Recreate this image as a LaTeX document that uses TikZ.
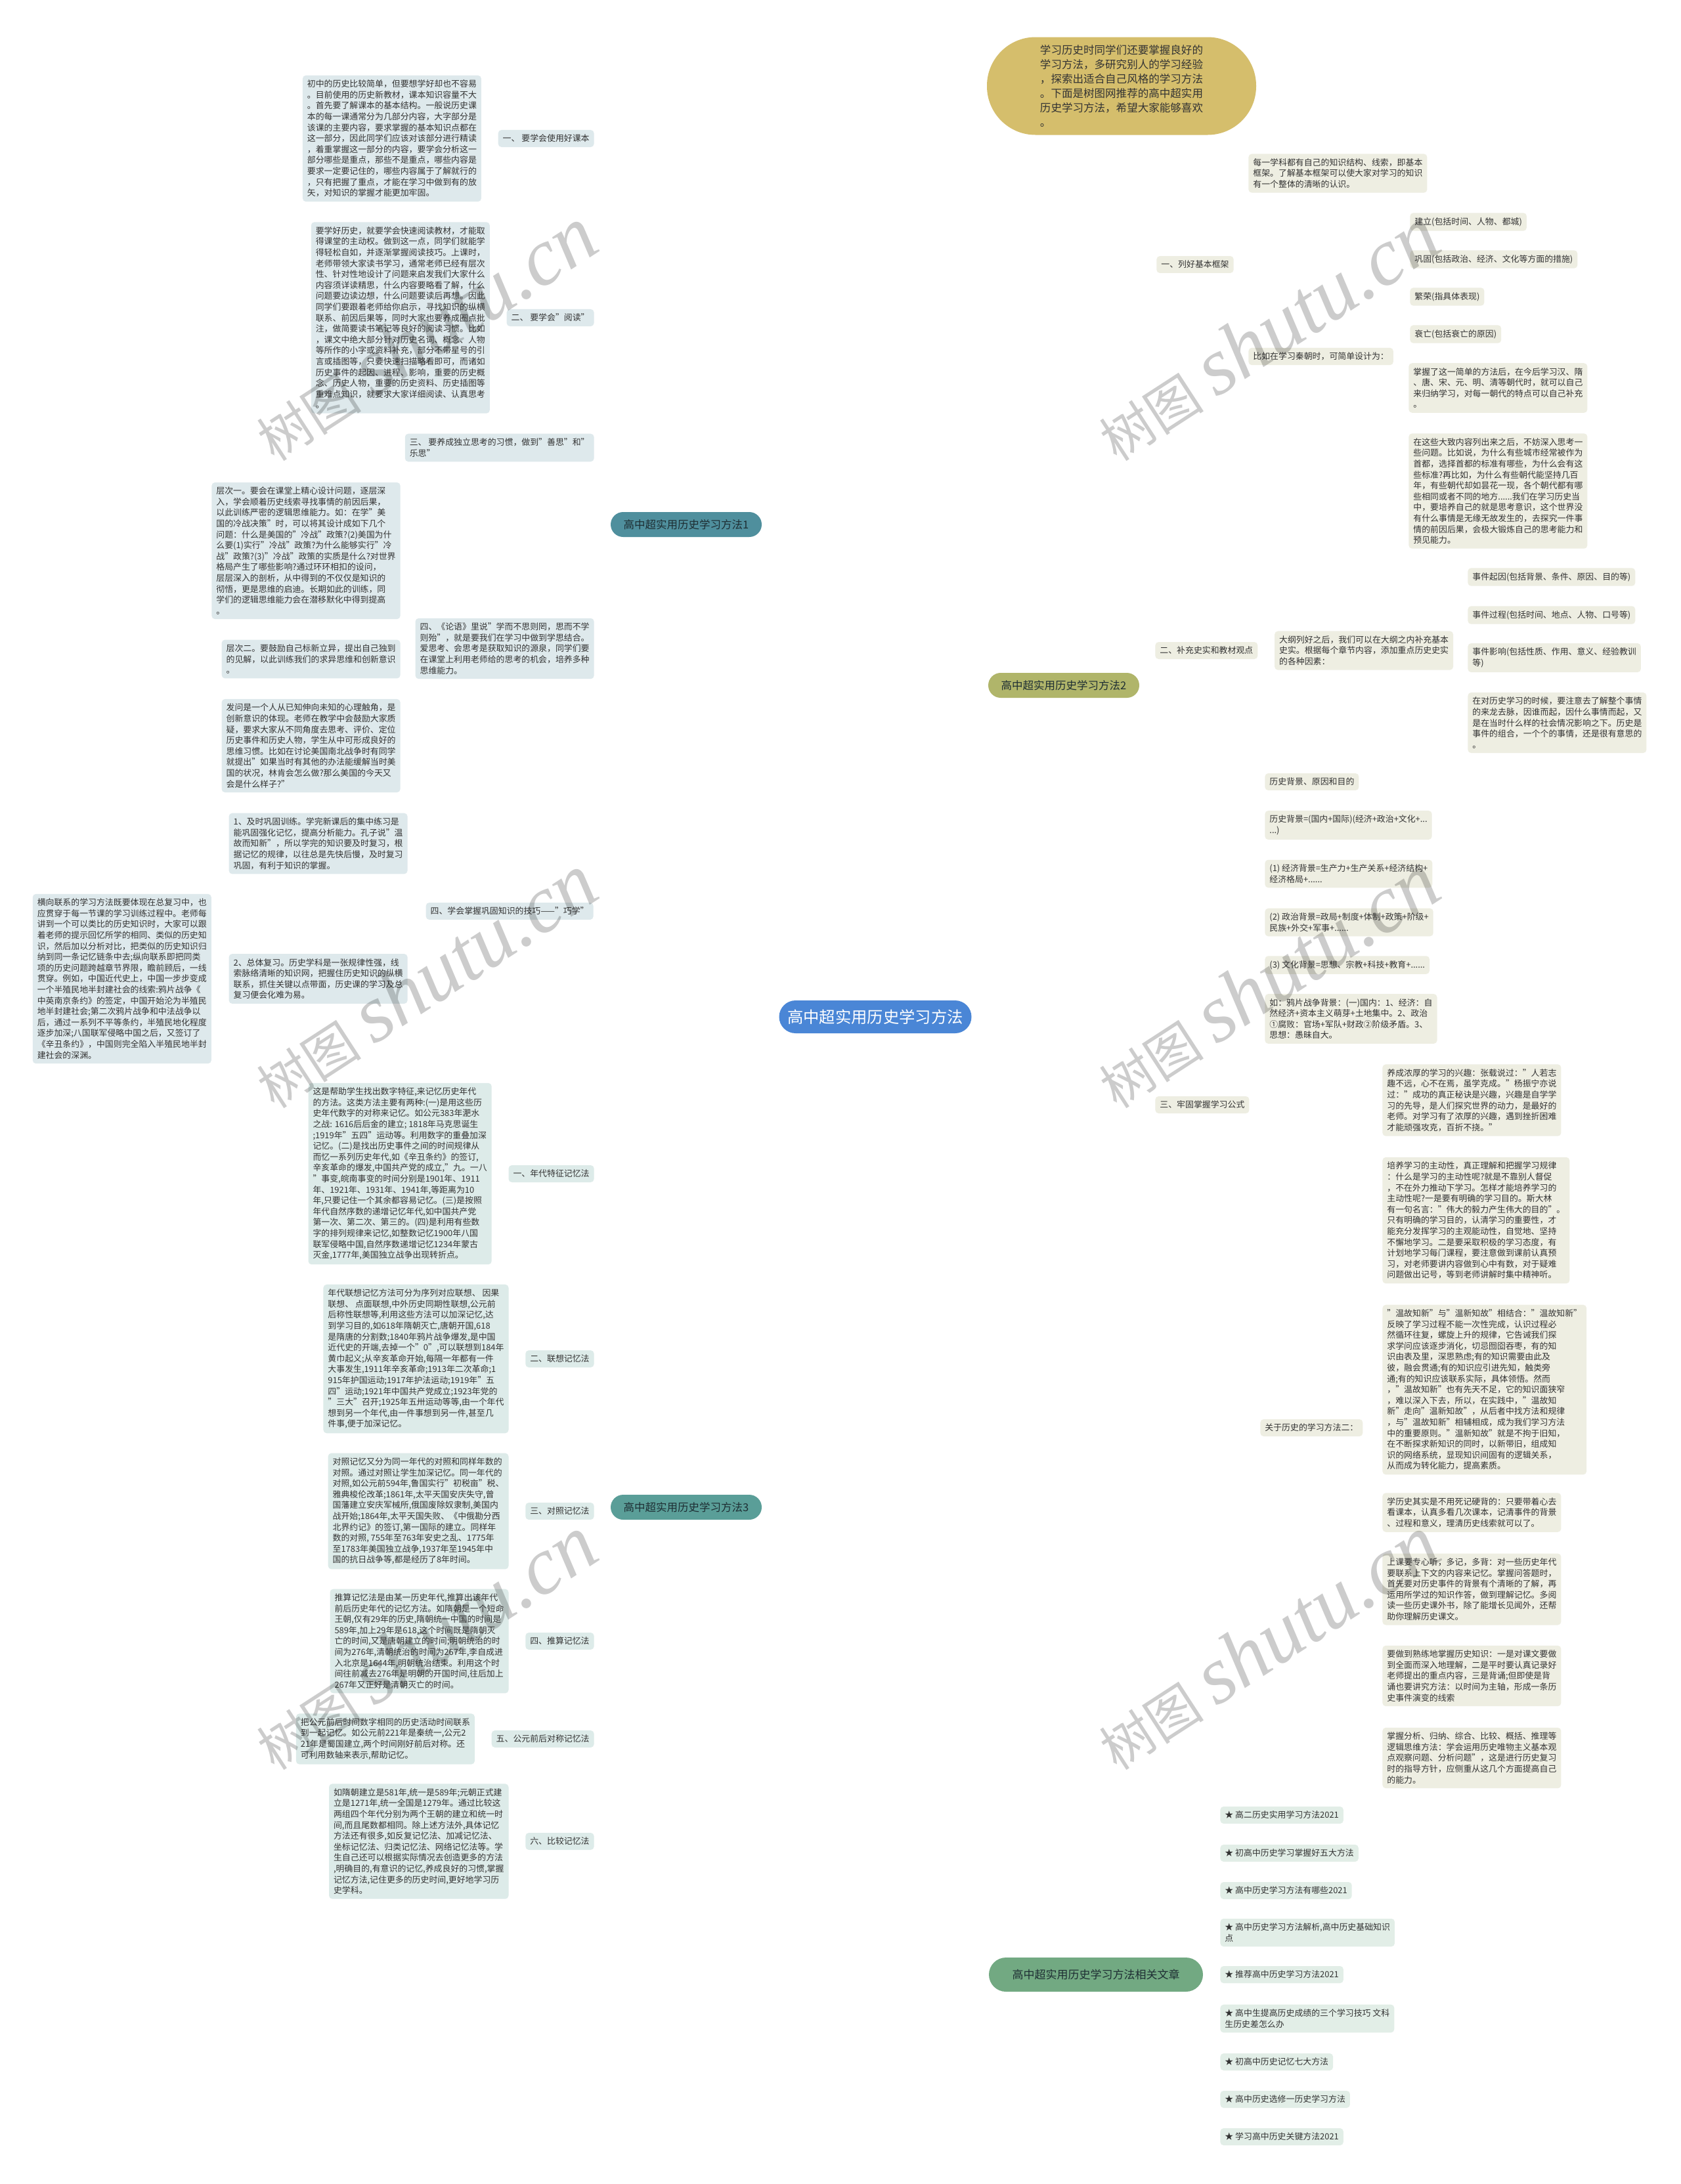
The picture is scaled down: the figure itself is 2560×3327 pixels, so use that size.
\documentclass[tikz,border=0pt]{standalone}
\usepackage{fontspec}
\setmainfont{Noto Sans CJK SC}
\newfontfamily\wmserif{Liberation Serif}
\usetikzlibrary{backgrounds,positioning}
\definecolor{txt}{HTML}{333333}
\definecolor{brt}{HTML}{1E2E33}
\definecolor{fA}{HTML}{DEE9EC}
\definecolor{cA}{HTML}{3E7F8B}
\definecolor{nA}{HTML}{4F8F9D}
\definecolor{fB}{HTML}{EEEEE2}
\definecolor{cB}{HTML}{9DA65C}
\definecolor{nB}{HTML}{B0B56A}
\definecolor{fC}{HTML}{DDEBE9}
\definecolor{cC}{HTML}{4F9A8F}
\definecolor{nC}{HTML}{5A9E98}
\definecolor{fD}{HTML}{E2EEE7}
\definecolor{cD}{HTML}{6AA57A}
\definecolor{nD}{HTML}{72A982}
\definecolor{nY}{HTML}{D5BE6C}
\definecolor{cY}{HTML}{D2B463}
\definecolor{nM}{HTML}{4A86D6}
\begin{document}
\begin{tikzpicture}[x=0.5pt,y=-0.5pt,
  every node/.style={font=\fontsize{6.45pt}{8.3pt}\selectfont, text=txt},
  blk/.style={align=left, inner xsep=3.5pt, inner ysep=3.5pt, rounded corners=2.5pt},
  kA/.style={blk, fill=fA}, kB/.style={blk, fill=fB},
  kC/.style={blk, fill=fC}, kD/.style={blk, fill=fD},
  br/.style={minimum width=115pt, minimum height=19pt, rounded corners=9.5pt, inner sep=0pt,
    text=brt, font=\fontsize{8.25pt}{10pt}\selectfont},
  lA/.style={draw=cA, line width=1pt, rounded corners=4pt},
  lB/.style={draw=cB, line width=1pt, rounded corners=4pt},
  lC/.style={draw=cC, line width=1pt, rounded corners=4pt},
  lD/.style={draw=cD, line width=1pt, rounded corners=4pt},
  mline/.style={line width=1.2pt},
  wm/.style={rotate=33, text=black, opacity=0.2, inner sep=0pt}]
\fill[white] (0,0) rectangle (2560,3327);
\useasboundingbox (0,0) rectangle (2560,3327);

% ---------- central and main nodes ----------
\node[fill=nM, text=white, minimum width=146.5pt, minimum height=25pt, rounded corners=12.5pt,
  inner sep=0pt, font=\fontsize{12.15pt}{14pt}\selectfont] (m) at (1333,1549) {高中超实用历史学习方法};
\node[fill=nY, minimum width=205pt, minimum height=74.5pt, rounded corners=37pt, inner sep=0pt,
  align=left, font=\fontsize{8.27pt}{11pt}\selectfont] (y) at (1708,131)
  {学习历史时同学们还要掌握良好的\\学习方法，多研究别人的学习经验\\，探索出适合自己风格的学习方法\\。下面是树图网推荐的高中超实用\\历史学习方法，希望大家能够喜欢\\。};
\node[br, fill=nA] (b1) at (1045,799) {高中超实用历史学习方法1};
\node[br, fill=nB] (b2) at (1620,1044) {高中超实用历史学习方法2};
\node[br, fill=nC] (b3) at (1045,2296) {高中超实用历史学习方法3};
\node[br, fill=nD, minimum width=163pt, minimum height=26pt, rounded corners=13pt,
  font=\fontsize{8.5pt}{10pt}\selectfont] (b4) at (1669,3008) {高中超实用历史学习方法相关文章};

% ---------- branch 1 ----------
\node[kA, anchor=east] (l1a) at (905,211) {一、 要学会使用好课本};
\node[kA, left=12.5pt of l1a] (t1a) {初中的历史比较简单，但要想学好却也不容易\\。目前使用的历史新教材，课本知识容量不大\\。首先要了解课本的基本结构。一般说历史课\\本的每一课通常分为几部分内容，大字部分是\\该课的主要内容，要求掌握的基本知识点都在\\这一部分，因此同学们应该对该部分进行精读\\，着重掌握这一部分的内容，要学会分析这一\\部分哪些是重点，那些不是重点，哪些内容是\\要求一定要记住的，哪些内容属于了解就行的\\，只有把握了重点，才能在学习中做到有的放\\矢，对知识的掌握才能更加牢固。};
\node[kA, anchor=east] (l1b) at (905,484) {二、 要学会"阅读"};
\node[kA, left=12.5pt of l1b] (t1b) {要学好历史，就要学会快速阅读教材，才能取\\得课堂的主动权。做到这一点，同学们就能学\\得轻松自如，并逐渐掌握阅读技巧。上课时，\\老师带领大家读书学习，通常老师已经有层次\\性、针对性地设计了问题来启发我们大家什么\\内容须详读精思，什么内容要略看了解，什么\\问题要边读边想，什么问题要读后再想。因此\\同学们要跟着老师给你启示，寻找知识的纵横\\联系、前因后果等，同时大家也要养成圈点批\\注，做简要读书笔记等良好的阅读习惯。比如\\，课文中绝大部分针对历史名词、概念、人物\\等所作的小字或资料补充，部分不带星号的引\\言或插图等，只要快速扫描略看即可，而诸如\\历史事件的起因、进程、影响，重要的历史概\\念、历史人物，重要的历史资料、历史插图等\\重难点知识，就要求大家详细阅读、认真思考\\。};
\node[kA, anchor=east] (l1c) at (905,682) {三、 要养成独立思考的习惯，做到"善思"和"\\乐思"};
\node[kA, anchor=east] (l1d) at (905,988) {四、《论语》里说"学而不思则罔，思而不学\\则殆"，就是要我们在学习中做到学思结合。\\爱思考、会思考是获取知识的源泉，同学们要\\在课堂上利用老师给的思考的机会，培养多种\\思维能力。};
\node[kA, anchor=east] (t1d1) at (610,839) {层次一。要会在课堂上精心设计问题，逐层深\\入，学会顺着历史线索寻找事情的前因后果，\\以此训练严密的逻辑思维能力。如：在学"美\\国的冷战决策"时，可以将其设计成如下几个\\问题：什么是美国的"冷战"政策?(2)美国为什\\么要(1)实行"冷战"政策?为什么能够实行"冷\\战"政策?(3)"冷战"政策的实质是什么?对世界\\格局产生了哪些影响?通过环环相扣的设问，\\层层深入的剖析，从中得到的不仅仅是知识的\\彻悟，更是思维的启迪。长期如此的训练，同\\学们的逻辑思维能力会在潜移默化中得到提高\\。};
\node[kA, anchor=east] (t1d2) at (610,1004) {层次二。要鼓励自己标新立异，提出自己独到\\的见解，以此训练我们的求异思维和创新意识\\。};
\node[kA, anchor=east] (t1d3) at (610,1136) {发问是一个人从已知伸向未知的心理触角，是\\创新意识的体现。老师在教学中会鼓励大家质\\疑，要求大家从不同角度去思考、评价、定位\\历史事件和历史人物，学生从中可形成良好的\\思维习惯。比如在讨论美国南北战争时有同学\\就提出"如果当时有其他的办法能缓解当时美\\国的状况，林肯会怎么做?那么美国的今天又\\会是什么样子?"};
\node[kA, anchor=east] (l1e) at (904,1388) {四、学会掌握巩固知识的技巧——"巧学"};
\node[kA, anchor=east] (t1e1) at (621,1285) {1、及时巩固训练。学完新课后的集中练习是\\能巩固强化记忆，提高分析能力。孔子说"温\\故而知新"，所以学完的知识要及时复习，根\\据记忆的规律，以往总是先快后慢，及时复习\\巩固，有利于知识的掌握。};
\node[kA, anchor=east] (t1e2) at (621,1491) {2、总体复习。历史学科是一张规律性强，线\\索脉络清晰的知识网，把握住历史知识的纵横\\联系，抓住关键以点带面，历史课的学习及总\\复习便会化难为易。};
\node[kA, left=13pt of t1e2] (t1e3) {横向联系的学习方法既要体现在总复习中，也\\应贯穿于每一节课的学习训练过程中。老师每\\讲到一个可以类比的历史知识时，大家可以跟\\着老师的提示回忆所学的相同、类似的历史知\\识，然后加以分析对比，把类似的历史知识归\\纳到同一条记忆链条中去;纵向联系即把同类\\项的历史问题跨越章节界限，瞻前顾后，一线\\贯穿。例如，中国近代史上，中国一步步变成\\一个半殖民地半封建社会的线索:鸦片战争《\\中英南京条约》的签定，中国开始沦为半殖民\\地半封建社会;第二次鸦片战争和中法战争以\\后，通过一系列不平等条约，半殖民地化程度\\逐步加深;八国联军侵略中国之后，又签订了\\《辛丑条约》，中国则完全陷入半殖民地半封\\建社会的深渊。};

% ---------- branch 3 ----------
\node[kC, anchor=east] (l3a) at (905,1788) {一、年代特征记忆法};
\node[kC, left=12.5pt of l3a] (t3a) {这是帮助学生找出数字特征,来记忆历史年代\\的方法。这类方法主要有两种:(一)是用这些历\\史年代数字的对称来记忆。如公元383年淝水\\之战: 1616后后金的建立; 1818年马克思诞生\\;1919年"五四"运动等。利用数字的重叠加深\\记忆。(二)是找出历史事件之间的时间规律从\\而忆一系列历史年代,如《辛丑条约》的签订,\\辛亥革命的爆发,中国共产党的成立,"九。一八\\"事变,皖南事变的时间分别是1901年、1911\\年、1921年、1931年、1941年,等距离为10\\年,只要记住一个其余都容易记忆。(三)是按照\\年代自然序数的递增记忆年代,如中国共产党\\第一次、第二次、第三的。(四)是利用有些数\\字的排列规律来记忆,如整数记忆1900年八国\\联军侵略中国,自然序数递增记忆1234年蒙古\\灭金,1777年,美国独立战争出现转折点。};
\node[kC, anchor=east] (l3b) at (905,2070) {二、联想记忆法};
\node[kC, left=12.5pt of l3b] (t3b) {年代联想记忆方法可分为序列对应联想、 因果\\联想、 点面联想,中外历史同期性联想,公元前\\后称性联想等,利用这些方法可以加深记忆,达\\到学习目的,如618年隋朝灭亡,唐朝开国,618\\是隋唐的分割数;1840年鸦片战争爆发,是中国\\近代史的开端,去掉一个"0",可以联想到184年\\黄巾起义;从辛亥革命开始,每隔一年都有一件\\大事发生,1911年辛亥革命;1913年二次革命;1\\915年护国运动;1917年护法运动;1919年"五\\四"运动;1921年中国共产党成立;1923年党的\\"三大"召开;1925年五卅运动等等,由一个年代\\想到另一个年代,由一件事想到另一件,甚至几\\件事,便于加深记忆。};
\node[kC, anchor=east] (l3c) at (905,2302) {三、对照记忆法};
\node[kC, left=12.5pt of l3c] (t3c) {对照记忆又分为同一年代的对照和同样年数的\\对照。通过对照让学生加深记忆。同一年代的\\对照,如公元前594年,鲁国实行"初税亩"税、\\雅典梭伦改革;1861年,太平天国安庆失守,曾\\国藩建立安庆军械所,俄国废除奴隶制,美国内\\战开始;1864年,太平天国失败、《中俄勘分西\\北界约记》的签订,第一国际的建立。同样年\\数的对照, 755年至763年安史之乱、1775年\\至1783年美国独立战争,1937年至1945年中\\国的抗日战争等,都是经历了8年时间。};
\node[kC, anchor=east] (l3d) at (905,2500) {四、推算记忆法};
\node[kC, left=12.5pt of l3d] (t3d) {推算记忆法是由某一历史年代,推算出该年代\\前后历史年代的记忆方法。如隋朝是一个短命\\王朝,仅有29年的历史,隋朝统一中国的时间是\\589年,加上29年是618,这个时间既是隋朝灭\\亡的时间,又是唐朝建立的时间;明朝统治的时\\间为276年,清朝统治的时间为267年,李自成进\\入北京是1644年,明朝统治结束。利用这个时\\间往前减去276年是明朝的开国时间,往后加上\\267年又正好是清朝灭亡的时间。};
\node[kC, anchor=east] (l3e) at (905,2649) {五、公元前后对称记忆法};
\node[kC, left=12.5pt of l3e] (t3e) {把公元前后时间数字相同的历史活动时间联系\\到一起记忆。如公元前221年是秦统一,公元2\\21年是蜀国建立,两个时间刚好前后对称。还\\可利用数轴来表示,帮助记忆。};
\node[kC, anchor=east] (l3f) at (905,2805) {六、比较记忆法};
\node[kC, left=12.5pt of l3f] (t3f) {如隋朝建立是581年,统一是589年;元朝正式建\\立是1271年,统一全国是1279年。通过比较这\\两组四个年代分别为两个王朝的建立和统一时\\间,而且尾数都相同。除上述方法外,具体记忆\\方法还有很多,如反复记忆法、加减记忆法、\\坐标记忆法、归类记忆法、网络记忆法等。学\\生自己还可以根据实际情况去创造更多的方法\\,明确目的,有意识的记忆,养成良好的习惯,掌握\\记忆方法,记住更多的历史时间,更好地学习历\\史学科。};

% ---------- branch 2 ----------
\node[kB, anchor=west] (l2a) at (1761,403) {一、列好基本框架};
\node[kB, anchor=west] (t2a) at (1901,264) {每一学科都有自己的知识结构、线索，即基本\\框架。了解基本框架可以使大家对学习的知识\\有一个整体的清晰的认识。};
\node[kB, anchor=west] (l2q) at (1901,543) {比如在学习秦朝时，可简单设计为：};
\node[kB, anchor=west] (q1) at (2147,338) {建立(包括时间、人物、都城)};
\node[kB, anchor=west] (q2) at (2147,395) {巩固(包括政治、经济、文化等方面的措施)};
\node[kB, anchor=west] (q3) at (2147,452) {繁荣(指具体表现)};
\node[kB, anchor=west] (q4) at (2147,509) {衰亡(包括衰亡的原因)};
\node[kB, anchor=west] (q5) at (2145,591) {掌握了这一简单的方法后，在今后学习汉、隋\\、唐、宋、元、明、清等朝代时，就可以自己\\来归纳学习，对每一朝代的特点可以自己补充\\。};
\node[kB, anchor=west] (q6) at (2145,748) {在这些大致内容列出来之后，不妨深入思考一\\些问题。比如说，为什么有些城市经常被作为\\首都，选择首都的标准有哪些，为什么会有这\\些标准?再比如，为什么有些朝代能坚持几百\\年，有些朝代却如昙花一现，各个朝代都有哪\\些相同或者不同的地方......我们在学习历史当\\中，要培养自己的就是思考意识，这个世界没\\有什么事情是无缘无故发生的，去探究一件事\\情的前因后果，会极大锻炼自己的思考能力和\\预见能力。};
\node[kB, anchor=west] (l2b) at (1759,991) {二、补充史实和教材观点};
\node[kB, right=12.5pt of l2b] (t2b) {大纲列好之后，我们可以在大纲之内补充基本\\史实。根据每个章节内容，添加重点历史史实\\的各种因素：};
\node[kB, anchor=west] (e1) at (2235,879) {事件起因(包括背景、条件、原因、目的等)};
\node[kB, anchor=west] (e2) at (2235,937) {事件过程(包括时间、地点、人物、口号等)};
\node[kB, anchor=west] (e3) at (2235,1002) {事件影响(包括性质、作用、意义、经验教训\\等)};
\node[kB, anchor=west] (e4) at (2235,1101) {在对历史学习的时候，要注意去了解整个事情\\的来龙去脉，因谁而起，因什么事情而起，又\\是在当时什么样的社会情况影响之下。历史是\\事件的组合，一个个的事情，还是很有意思的\\。};
\node[kB, anchor=west] (l2c) at (1759,1683) {三、牢固掌握学习公式};
\node[kB, anchor=west] (g1) at (1926,1191) {历史背景、原因和目的};
\node[kB, anchor=west] (g2) at (1926,1257) {历史背景=(国内+国际)(经济+政治+文化+...\\...)};
\node[kB, anchor=west] (g3) at (1926,1331) {(1) 经济背景=生产力+生产关系+经济结构+\\经济格局+......};
\node[kB, anchor=west] (g4) at (1926,1405) {(2) 政治背景=政局+制度+体制+政策+阶级+\\民族+外交+军事+......};
\node[kB, anchor=west] (g5) at (1926,1470) {(3) 文化背景=思想、宗教+科技+教育+......};
\node[kB, anchor=west] (g6) at (1926,1552) {如：鸦片战争背景：(一)国内：1、经济：自\\然经济+资本主义萌芽+土地集中。2、政治\\①腐败：官场+军队+财政②阶级矛盾。3、\\思想：愚昧自大。};
\node[kB, anchor=west] (g7) at (1919,2175) {关于历史的学习方法二：};
\node[kB, anchor=west] (h1) at (2105,1676) {养成浓厚的学习的兴趣：张载说过："人若志\\趣不远，心不在焉，虽学克成。"杨振宁亦说\\过："成功的真正秘诀是兴趣，兴趣是自学学\\习的先导，是人们探究世界的动力，是最好的\\老师。对学习有了浓厚的兴趣，遇到挫折困难\\才能顽强攻克，百折不挠。"};
\node[kB, anchor=west] (h2) at (2105,1859) {培养学习的主动性，真正理解和把握学习规律\\：什么是学习的主动性呢?就是不靠别人督促\\，不在外力推动下学习。怎样才能培养学习的\\主动性呢?一是要有明确的学习目的。斯大林\\有一句名言："伟大的毅力产生伟大的目的"。\\只有明确的学习目的，认清学习的重要性，才\\能充分发挥学习的主观能动性，自觉地、坚持\\不懈地学习。二是要采取积极的学习态度，有\\计划地学习每门课程，要注意做到课前认真预\\习，对老师要讲内容做到心中有数，对于疑难\\问题做出记号，等到老师讲解时集中精神听。};
\node[kB, anchor=west] (h3) at (2105,2117) {"温故知新"与"温新知故"相结合："温故知新"\\反映了学习过程不能一次性完成，认识过程必\\然循环往复，螺旋上升的规律，它告诫我们探\\求学问应该逐步消化，切忌囫囵吞枣，有的知\\识由表及里，深思熟虑;有的知识需要由此及\\彼，融会贯通;有的知识应引进先知，触类旁\\通;有的知识应该联系实际，具体领悟。然而\\，"温故知新"也有先天不足，它的知识面狭窄\\，难以深入下去，所以，在实践中，"温故知\\新"走向"温新知故"，从后者中找方法和规律\\，与"温故知新"相辅相成，成为我们学习方法\\中的重要原则。"温新知故"就是不拘于旧知，\\在不断探求新知识的同时，以新带旧，组成知\\识的网络系统，显现知识间固有的逻辑关系，\\从而成为转化能力，提高素质。};
\node[kB, anchor=west] (h4) at (2105,2304) {学历史其实是不用死记硬背的：只要带着心去\\看课本，认真多看几次课本，记清事件的背景\\、过程和意义，理清历史线索就可以了。};
\node[kB, anchor=west] (h5) at (2105,2421) {上课要专心听，多记，多背：对一些历史年代\\要联系上下文的内容来记忆。掌握问答题时，\\首先要对历史事件的背景有个清晰的了解，再\\运用所学过的知识作答，做到理解记忆。多阅\\读一些历史课外书，除了能增长见闻外，还帮\\助你理解历史课文。};
\node[kB, anchor=west] (h6) at (2105,2553) {要做到熟练地掌握历史知识：一是对课文要做\\到全面而深入地理解，二是平时要认真记录好\\老师提出的重点内容，三是背诵;但即使是背\\诵也要讲究方法：以时间为主轴，形成一条历\\史事件演变的线索};
\node[kB, anchor=west] (h7) at (2105,2678) {掌握分析、归纳、综合、比较、概括、推理等\\逻辑思维方法：学会运用历史唯物主义基本观\\点观察问题、分析问题"，这是进行历史复习\\时的指导方针，应侧重从这几个方面提高自己\\的能力。};

% ---------- branch 4 ----------
\node[kD, anchor=west] (r1) at (1858,2765) {★ 高二历史实用学习方法2021};
\node[kD, anchor=west] (r2) at (1858,2823) {★ 初高中历史学习掌握好五大方法};
\node[kD, anchor=west] (r3) at (1858,2880) {★ 高中历史学习方法有哪些2021};
\node[kD, anchor=west] (r4) at (1858,2944) {★ 高中历史学习方法解析,高中历史基础知识\\点};
\node[kD, anchor=west] (r5) at (1858,3008) {★ 推荐高中历史学习方法2021};
\node[kD, anchor=west] (r6) at (1858,3075) {★ 高中生提高历史成绩的三个学习技巧 文科\\生历史差怎么办};
\node[kD, anchor=west] (r7) at (1858,3141) {★ 初高中历史记忆七大方法};
\node[kD, anchor=west] (r8) at (1858,3198) {★ 高中历史选修一历史学习方法};
\node[kD, anchor=west] (r9) at (1858,3255) {★ 学习高中历史关键方法2021};

% ---------- connectors ----------
\begin{pgfonlayer}{background}
\draw[mline, draw=cA] (m.center) .. controls (1333,1000) and (1260,799) .. (b1.east);
\draw[mline, draw=cY] (m.center) .. controls (1345,600) and (1420,131) .. (y.west);
\draw[mline, draw=cB] (m.center) .. controls (1333,1250) and (1400,1044) .. (b2.west);
\draw[mline, draw=cC] (m.center) .. controls (1333,2000) and (1250,2296) .. (b3.east);
\draw[mline, draw=cD] (m.center) .. controls (1333,2500) and (1420,3008) .. (b4.west);
% branch 1
\foreach \c in {l1a,l1b,l1c,l1d,l1e} \draw[lA] (b1.west) -- ++(-13,0) |- (\c.east);
\draw[lA] (l1a.west) -- (t1a.east);
\draw[lA] (l1b.west) -- (t1b.east);
\foreach \c in {t1d1,t1d2,t1d3} \draw[lA] (l1d.west) -- ++(-12,0) |- (\c.east);
\foreach \c in {t1e1,t1e2} \draw[lA] (l1e.west) -- ++(-13,0) |- (\c.east);
\draw[lA] (t1e2.west) -- (t1e3.east);
% branch 3
\foreach \c in {l3a,l3b,l3c,l3d,l3e,l3f} \draw[lC] (b3.west) -- ++(-13,0) |- (\c.east);
\draw[lC] (l3a.west) -- (t3a.east);
\draw[lC] (l3b.west) -- (t3b.east);
\draw[lC] (l3c.west) -- (t3c.east);
\draw[lC] (l3d.west) -- (t3d.east);
\draw[lC] (l3e.west) -- (t3e.east);
\draw[lC] (l3f.west) -- (t3f.east);
% branch 2
\foreach \c in {l2a,l2b,l2c} \draw[lB] (b2.east) -- ++(12,0) |- (\c.west);
\foreach \c in {t2a,l2q} \draw[lB] (l2a.east) -- ++(13,0) |- (\c.west);
\foreach \c in {q1,q2,q3,q4,q5,q6} \draw[lB] (l2q.east) -- ++(12,0) |- (\c.west);
\draw[lB] (l2b.east) -- (t2b.west);
\foreach \c in {e1,e2,e3,e4} \draw[lB] (t2b.east) -- ++(12,0) |- (\c.west);
\foreach \c in {g1,g2,g3,g4,g5,g6,g7} \draw[lB] (l2c.east) -- ++(9,0) |- (\c.west);
\foreach \c in {h1,h2,h3,h4,h5,h6,h7} \draw[lB] (g7.east) -- ++(14,0) |- (\c.west);
% branch 4
\foreach \c in {r1,r2,r3,r4,r5,r6,r7,r8,r9} \draw[lD] (b4.east) -- ++(14,0) |- (\c.west);
\end{pgfonlayer}

% ---------- watermarks ----------
\foreach \wx/\wy [count=\i] in {647/509, 647/1495, 647/2503, 1930/509, 1930/1495, 1930/2503}
  \node[wm] (wm\i) at (\wx,\wy) {{\fontsize{40pt}{40pt}\selectfont 树图}\hspace{10pt}{\wmserif\itshape\fontsize{62pt}{62pt}\selectfont shutu.cn}};
\end{tikzpicture}
\end{document}
